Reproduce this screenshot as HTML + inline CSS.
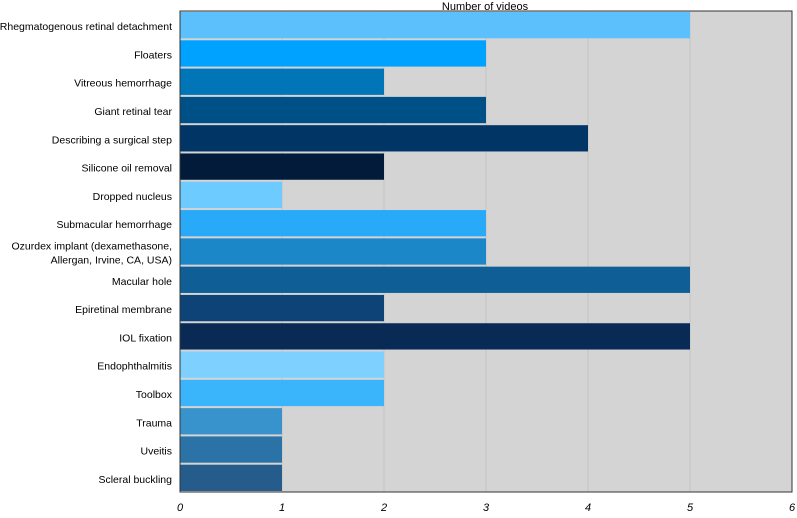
<!DOCTYPE html>
<html><head><meta charset="utf-8"><style>
body{margin:0;background:#fff;width:797px;height:513px;overflow:hidden;font-family:"Liberation Sans",sans-serif;}
</style></head><body>
<svg id="chart" width="797" height="513" xmlns="http://www.w3.org/2000/svg">
<text x="485" y="10" font-size="11" text-anchor="middle" fill="#000">Number of videos</text>
</svg>
<script>
const categories=["Rhegmatogenous retinal detachment","Floaters","Vitreous hemorrhage","Giant retinal tear","Describing a surgical step","Silicone oil removal","Dropped nucleus","Submacular hemorrhage","Ozurdex implant (dexamethasone,|Allergan, Irvine, CA, USA)","Macular hole","Epiretinal membrane","IOL fixation","Endophthalmitis","Toolbox","Trauma","Uveitis","Scleral buckling"];
const values=[5,3,2,3,4,2,1,3,3,5,2,5,2,2,1,1,1];
const colors=["#5bc0fb","#00a2ff","#0075b8","#005088","#003566","#021b3b","#6ecbff","#29aaf9","#1b87c9","#0f5f96","#0d4376","#0a2a56","#7ed1ff","#3ab5fc","#3893cc","#2b73a6","#255c8c"];
const ticks=[0,1,2,3,4,5,6];
const L=180,R=792,T=11,B=492,NS="http://www.w3.org/2000/svg";
const svg=document.getElementById('chart');
const x=v=>L+(R-L)*v/6;
const rowH=(B-T)/categories.length;
function mk(t,a){const e=document.createElementNS(NS,t);for(const k in a)e.setAttribute(k,a[k]);svg.appendChild(e);return e;}
let bg=mk('rect',{x:L,y:T,width:R-L,height:B-T,fill:'#d4d4d4'});


ticks.forEach(t=>{
 if(t>0&&t<6){let g=mk('line',{x1:x(t),x2:x(t),y1:T,y2:B,stroke:'#c4c4c4','stroke-width':1});
 
 }
 let tl=mk('text',{x:x(t),y:511,'font-size':11,'font-style':'italic','text-anchor':'middle',fill:'#000'});
 tl.textContent=t;
 
 
});
categories.forEach((c,i)=>{
 const y0=T+i*rowH+1;
 let b=mk('rect',{x:L,y:y0,width:x(values[i])-L,height:rowH-2,fill:colors[i]});
 
 
 const lines=c.split('|');const cy=y0+rowH/2;
 lines.forEach((ln,j)=>{
  let t=mk('text',{x:172,y:cy+4+(j-(lines.length-1)/2)*14,'font-size':10.5,'text-anchor':'end',fill:'#000'});
  t.textContent=ln;
  
  
 });
});
let fr=mk('rect',{x:L,y:T,width:R-L,height:B-T,fill:'none',stroke:'#333','stroke-width':1});


</script>
</body></html>
